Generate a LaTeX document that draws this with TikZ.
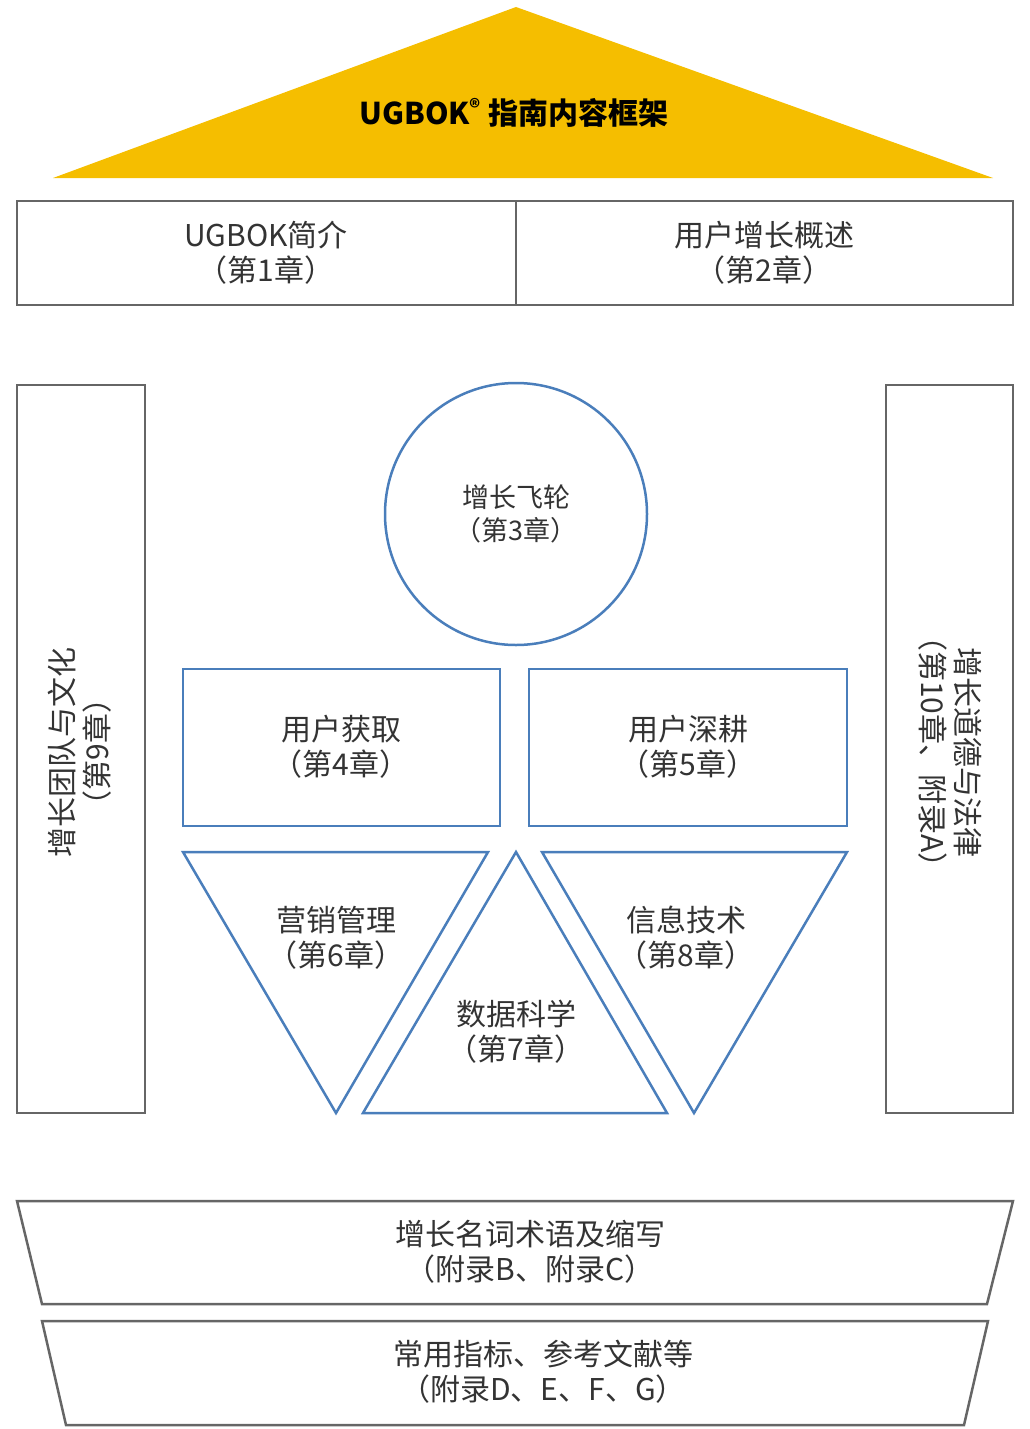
\documentclass[tikz,border=0pt]{standalone}
\usepackage{fontspec}
\setmainfont{Noto Sans CJK SC}
\definecolor{gold}{HTML}{F5BE00}
\definecolor{bl}{HTML}{4A7EBB}
\definecolor{gr}{HTML}{666666}
\definecolor{tx}{HTML}{333333}
\begin{document}
\begin{tikzpicture}[x=1pt,y=-1pt,
  gbox/.style={draw=gr,line width=2.5pt},
  bshape/.style={draw=bl,line width=2.5pt},
  lbl/.style={align=center,text=tx,font=\fontsize{30}{35}\selectfont}]
\useasboundingbox (0,0) rectangle (1030,1429);
\fill[fill=gold] (53,178) -- (516,7) -- (993,178) -- cycle;
\node[font=\bfseries\fontsize{30}{34}\selectfont,text=black] (title) at (514,113) {UGBOK\textsuperscript{®} 指南内容框架};
\draw[gbox] (17,201) rectangle (1013,305);
\draw[gbox] (516,201) -- (516,305);
\node[lbl] (c1) at (266,253) {UGBOK简介\\（第1章）};
\node[lbl] (c2) at (764,253) {用户增长概述\\（第2章）};
\draw[gbox] (17,385) rectangle (145,1113);
\node[lbl] (c9) [rotate=90] at (80,752) {增长团队与文化\\（第9章）};
\draw[gbox] (886,385) rectangle (1013,1113);
\node[lbl] (c10) [rotate=-90] at (950,752) {增长道德与法律\\（第10章、附录A）};
\draw[bshape] (516,514) circle (131);
\node[lbl,font=\fontsize{27}{33}\selectfont] (c3) at (516,514) {增长飞轮\\（第3章）};
\draw[bshape] (183,669) rectangle (500,826);
\node[lbl] (c4) at (341,747) {用户获取\\（第4章）};
\draw[bshape] (529,669) rectangle (847,826);
\node[lbl] (c5) at (688,747) {用户深耕\\（第5章）};
\draw[bshape] (183,852) -- (488,852) -- (336,1113) -- cycle;
\node[lbl] (c6) at (336,938) {营销管理\\（第6章）};
\draw[bshape] (516,852) -- (667,1113) -- (363,1113) -- cycle;
\node[lbl] (c7) at (516,1032) {数据科学\\（第7章）};
\draw[bshape] (542,852) -- (847,852) -- (694,1113) -- cycle;
\node[lbl] (c8) at (686,938) {信息技术\\（第8章）};
\draw[gbox] (17,1201) -- (1013,1201) -- (987,1304) -- (42,1304) -- cycle;
\node[lbl] (b1) at (530,1252) {增长名词术语及缩写\\（附录B、附录C）};
\draw[gbox] (42,1321) -- (988,1321) -- (964,1425) -- (66,1425) -- cycle;
\node[lbl] (b2) at (543,1372) {常用指标、参考文献等\\（附录D、E、F、G）};
\end{tikzpicture}
\end{document}
